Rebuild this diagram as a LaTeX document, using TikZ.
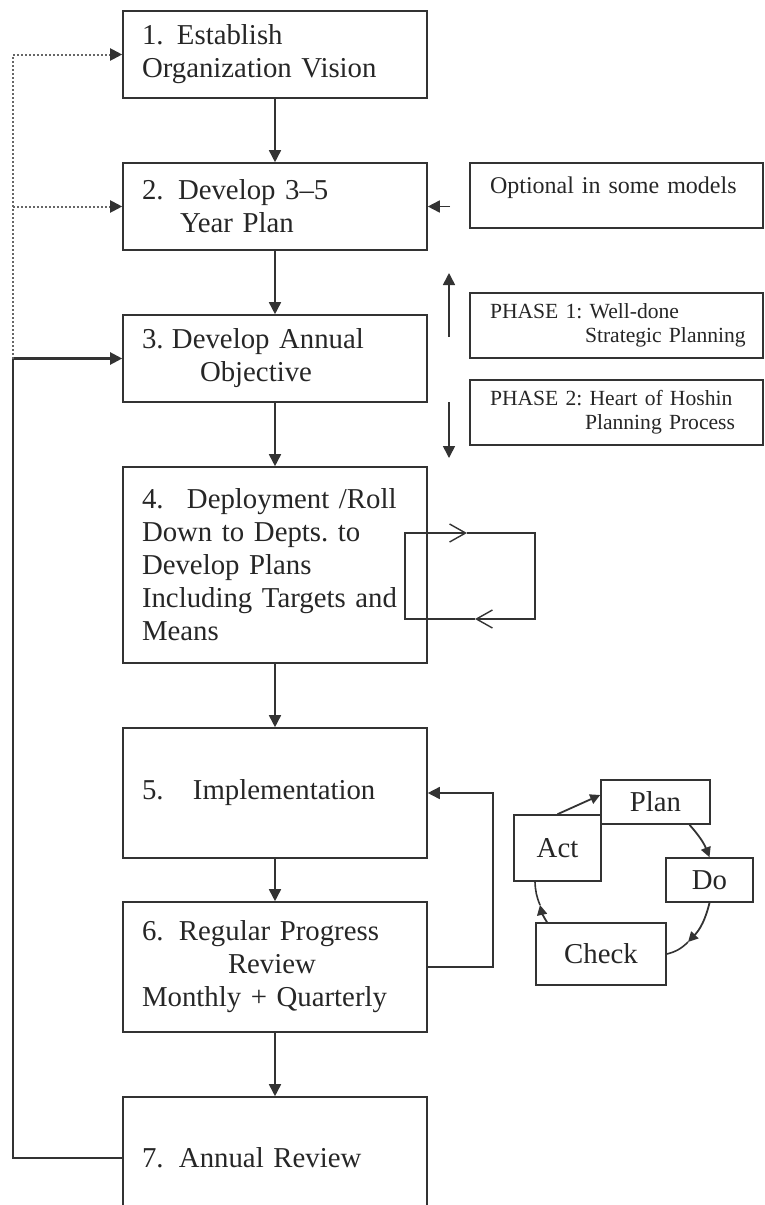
\documentclass[tikz,border=0pt]{standalone}
\usepackage{fontspec}
\setmainfont{Liberation Serif}
\frenchspacing
\usetikzlibrary{arrows.meta}
\definecolor{inkline}{HTML}{333333}
\definecolor{inktext}{HTML}{262626}

\tikzset{
  stage/.style={draw=inkline, line width=0.8pt, text width=133pt, inner xsep=9.5pt,
    align=left, text=inktext, font=\fontsize{14.4pt}{16.5pt}\selectfont},
  sidebox/.style={draw=inkline, line width=0.8pt, text width=126.5pt, inner xsep=10pt,
    align=left, text=inktext, minimum height=32.5pt},
  cyclebox/.style={draw=inkline, line width=0.8pt, text=inktext, inner sep=0pt,
    font=\fontsize{14.4pt}{16.5pt}\selectfont},
  flow/.style={draw=inkline, line width=0.8pt, -{Triangle[length=6pt,width=6pt]}},
  smallflow/.style={draw=inkline, line width=0.9pt, -{Triangle[length=5pt,width=5pt]}},
  dotflow/.style={draw=inkline!75, densely dotted, line width=1pt,
    -{Triangle[length=6pt,width=6pt,color=inkline]}},
  loopar/.style={draw=inkline, line width=0.7pt, -{Straight Barb[length=8pt,width=9pt]}},
}

\begin{document}
\begin{tikzpicture}[x=0.5pt,y=-0.5pt]
  \useasboundingbox (0,0) rectangle (765,1205);
  \clip (0,0) rectangle (765,1205);
  % main steps
  \node[stage,minimum height=43.5pt] (s1) at (275,54.5) {1.\hspace{6.7pt}Establish\\Organization Vision};
  \node[stage,minimum height=43.5pt] (s2) at (275,206.5) {2.\hspace{7.2pt}Develop 3--5\\\hspace*{19pt}Year Plan};
  \node[stage,minimum height=43.5pt] (s3) at (275,358.5) {3.\hspace{4.2pt}Develop Annual\\\hspace*{29pt}Objective};
  \node[stage,minimum height=98pt] (s4) at (275,565) {4.\hspace{11.7pt}Deployment /Roll\\Down to Depts. to\\Develop Plans\\Including Targets and\\Means};
  \node[stage,minimum height=65pt] (s5) at (275,793) {5.\hspace{14.7pt}Implementation};
  \node[stage,minimum height=65pt] (s6) at (275,967) {6.\hspace{7.7pt}Regular Progress\\\hspace*{43pt}Review\\Monthly + Quarterly};
  \node[stage,minimum height=61pt] (s7) at (275,1158) {7.\hspace{7.7pt}Annual Review};
  \foreach \a/\b in {s1/s2,s2/s3,s3/s4,s4/s5,s5/s6,s6/s7}
    \draw[flow] (\a) -- (\b);

  % return lines on the left
  \coordinate (back) at (13,358.5);
  \draw[flow,line width=1.1pt] (s7.west) -| (back) -- (s3.west);
  \draw[dotflow] (back) |- (s1.west);
  \draw[dotflow] (back) |- (s2.west);

  % side notes
  \node[sidebox,font=\fontsize{12pt}{14pt}\selectfont] (opt) at (616.5,195.5) {\raisebox{4pt}[\height][\depth]{Optional in some models}};
  \coordinate (optfrom) at (450,206.5);
  \draw[flow] (optfrom) -- (s2.east);
  \node[sidebox,font=\fontsize{10.8pt}{12pt}\selectfont] (ph1) at (616.5,325.5) {PHASE 1: Well-done\\\hspace*{47.5pt}\mbox{Strategic Planning}};
  \node[sidebox,font=\fontsize{10.8pt}{12pt}\selectfont] (ph2) at (616.5,412.5) {PHASE 2: Heart of Hoshin\\\hspace*{47.5pt}\mbox{Planning Process}};
  \coordinate (upfrom) at (449,337);
  \coordinate (upto) at (449,273);
  \coordinate (downfrom) at (449,402);
  \coordinate (downto) at (449,458);
  \draw[flow] (upfrom) -- (upto);
  \draw[flow] (downfrom) -- (downto);

  % loop at step 4
  \coordinate (lpA) at (405,619);
  \coordinate (lpB) at (405,533);
  \coordinate (lpC) at (467,533);
  \coordinate (lpD) at (535,533);
  \coordinate (lpE) at (535,619);
  \coordinate (lpF) at (475,619);
  \draw[loopar] (lpF) -- (lpA) -- (lpB) -- (lpC);
  \draw[loopar] (lpC) -- (lpD) -- (lpE) -- (lpF);

  % review feeds implementation
  \draw[flow] (s6.east) -- ++(65,0) |- (s5.east);

  % PDCA cycle
  \node[cyclebox,minimum width=54.5pt,minimum height=22pt] (plan) at (655.5,802) {Plan};
  \node[cyclebox,minimum width=43.5pt,minimum height=33pt] (act) at (557.5,848) {Act};
  \node[cyclebox,minimum width=43.5pt,minimum height=22pt] (do) at (709.5,880) {Do};
  \node[cyclebox,minimum width=65pt,minimum height=31pt] (check) at (601,954) {Check};
  \coordinate (dc) at (688,942);
  \coordinate (ca) at (540,905);
  \draw[smallflow] (act.north) -- ([yshift=3.5pt]plan.west);
  \draw[smallflow] ([xshift=17pt]plan.south) to[bend left=10] (do.north);
  \draw[smallflow] (do.south) to[bend left=15] (dc);
  \draw[draw=inkline,line width=0.8pt] (dc) to[bend left=15] (check.east);
  \draw[smallflow] ([xshift=-27pt]check.north) to[bend left=10] (ca);
  \draw[draw=inkline,line width=0.8pt] (ca) to[bend left=10] ([xshift=-11.25pt]act.south);
\end{tikzpicture}
\end{document}
